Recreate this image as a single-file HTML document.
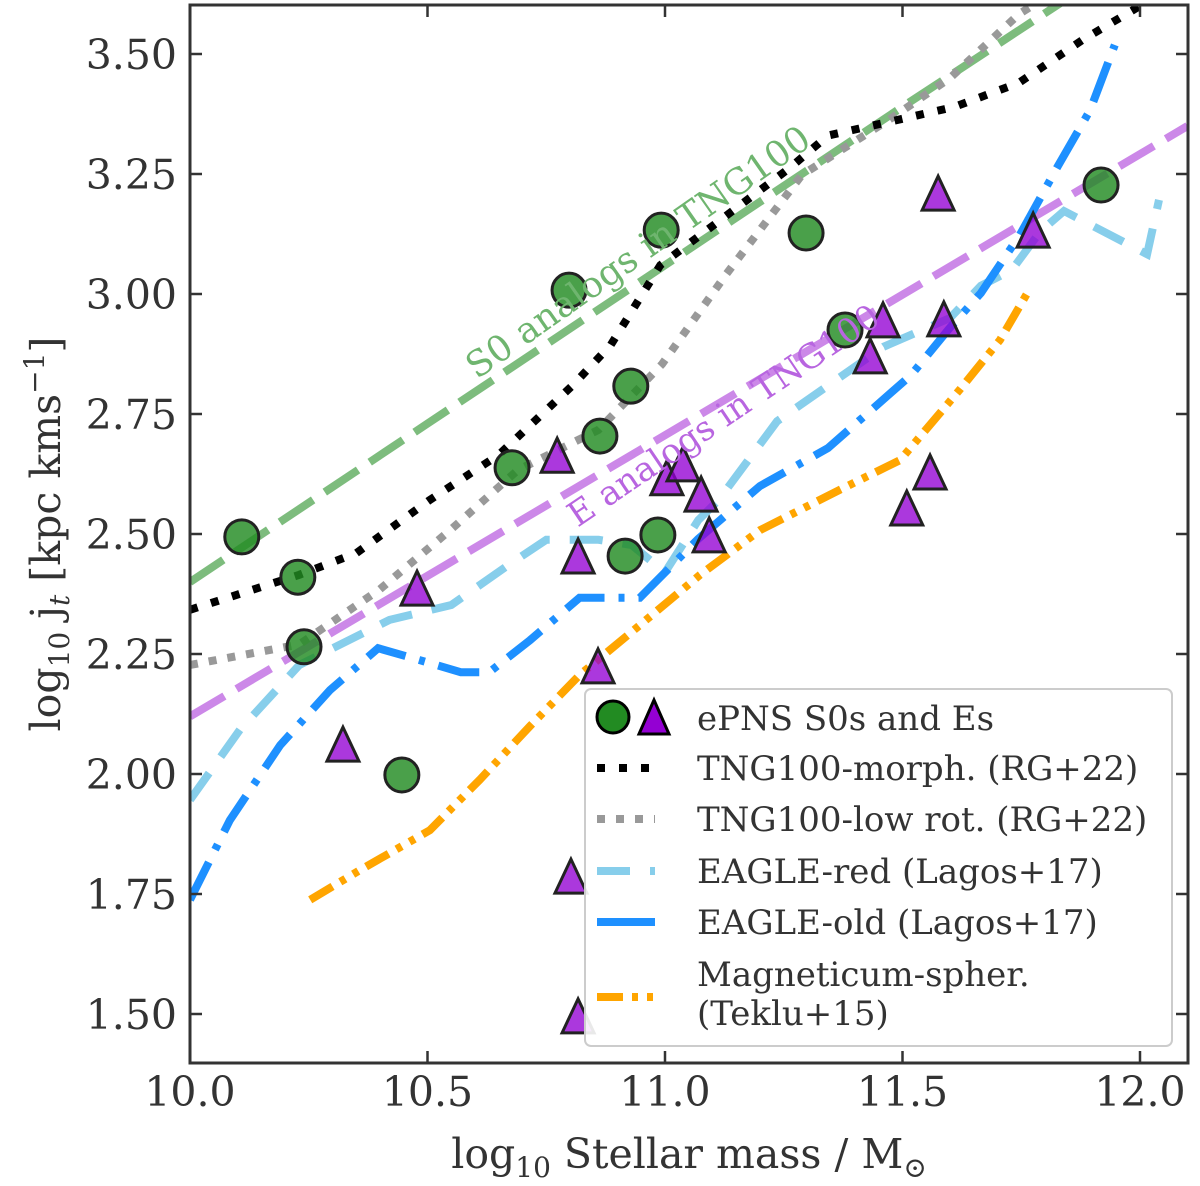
<!DOCTYPE html>
<html><head><meta charset="utf-8"><style>
body{margin:0;background:#fff}
svg{display:block;font-family:"DejaVu Serif","Liberation Serif",serif}
</style></head><body>
<svg id="c" width="1200" height="1186" viewBox="0 0 1200 1186">
<defs><clipPath id="clip"><rect x="190" y="5" width="998" height="1058"/></clipPath></defs>
<g id="lines" clip-path="url(#clip)"></g>
<g id="marks"></g>
<text x="645" y="262" transform="rotate(-35 645 262)" text-anchor="middle" font-size="36" fill="#6fb56f">S0 analogs in TNG100</text>
<text x="730" y="425" transform="rotate(-34 730 425)" text-anchor="middle" font-size="34" fill="#b865e0">E analogs in TNG100</text>
<rect x="190" y="5" width="998" height="1058" fill="none" stroke="#333" stroke-width="3"/>
<g id="axes"></g>
<g>
<rect x="585" y="689" width="587" height="357" rx="6" fill="#fff" fill-opacity="0.9" stroke="#ccc" stroke-width="2"/>
<circle cx="613" cy="717" r="16" fill="#228b22" stroke="#000" stroke-width="3"/>
<polygon points="639,734 669,734 654,700" fill="#9400d3" stroke="#000" stroke-width="3"/>
<g font-size="34" fill="#333">
<text x="697" y="730">ePNS S0s and Es</text>
<text x="697" y="780">TNG100-morph. (RG+22)</text>
<text x="697" y="831">TNG100-low rot. (RG+22)</text>
<text x="697" y="883">EAGLE-red (Lagos+17)</text>
<text x="697" y="934">EAGLE-old (Lagos+17)</text>
<text x="697" y="986">Magneticum-spher.</text>
<text x="697" y="1025">(Teklu+15)</text>
</g>
<line x1="597" x2="655" y1="768" y2="768" stroke="#000" stroke-width="8" stroke-dasharray="8,14"/>
<line x1="597" x2="655" y1="819" y2="819" stroke="#999" stroke-width="8" stroke-dasharray="8,11"/>
<line x1="597" x2="655" y1="871" y2="871" stroke="#87ceeb" stroke-width="8" stroke-dasharray="33,20"/>
<line x1="597" x2="655" y1="922" y2="922" stroke="#1e90ff" stroke-width="8"/>
<line x1="597" x2="655" y1="997" y2="997" stroke="#ffa500" stroke-width="8" stroke-dasharray="26,9,6,9,6,9"/>
</g>
<text x="689" y="1168" text-anchor="middle" font-size="41" fill="#333">log<tspan font-size="28" dy="9">10</tspan><tspan dy="-9"> Stellar mass / M</tspan><tspan font-size="28" dy="9">⊙</tspan></text>
<text transform="translate(60 534) rotate(-90)" text-anchor="middle" font-size="41" fill="#333">log<tspan font-size="28" dy="9">10</tspan><tspan dy="-9"> j</tspan><tspan font-size="28" dy="9" font-style="italic">t</tspan><tspan dy="-9"> [kpc kms</tspan><tspan font-size="28" dy="-16">−1</tspan><tspan dy="16">]</tspan></text>
</svg>
<script>
const xTicks=[10.0,10.5,11.0,11.5,12.0];
const yTicks=[1.50,1.75,2.00,2.25,2.50,2.75,3.00,3.25,3.50];
const s0Mass=[10.109,10.227,10.240,10.446,10.678,10.798,10.863,10.928,10.985,10.992,10.916,11.297,11.379,11.918];
const s0J=[2.494,2.410,2.265,1.998,2.638,3.008,2.704,2.808,2.498,3.133,2.454,3.127,2.925,3.227];
const eMass=[10.773,10.817,10.478,10.322,10.859,10.802,10.817,11.004,11.038,11.076,11.093,11.432,11.459,11.575,11.587,11.558,11.509,11.775];
const eJ=[2.660,2.450,2.383,2.058,2.221,1.783,1.492,2.613,2.642,2.579,2.494,2.867,2.942,3.206,2.944,2.625,2.550,3.129];
const s0LineX=[10.0,10.5,11.0,11.5,12.1];
const s0LineY=[2.40,2.73,3.06,3.39,3.78];
const eLineX=[10.0,12.1];
const eLineY=[2.12,3.35];
const morphX=[10.0,10.23,10.35,10.505,10.65,10.806,10.886,10.99,11.263,11.343,11.478,11.61,11.745,11.88,12.0];
const morphY=[2.342,2.415,2.46,2.571,2.665,2.81,2.894,3.06,3.263,3.33,3.36,3.39,3.44,3.53,3.60];
const lowrotX=[10.0,10.23,10.4,10.55,10.69,10.86,10.994,11.128,11.288,11.478,11.6,11.745,11.82];
const lowrotY=[2.227,2.27,2.385,2.51,2.633,2.717,2.854,3.04,3.248,3.367,3.45,3.583,3.63];
const redX=[10.0,10.105,10.23,10.42,10.55,10.67,10.75,10.86,10.93,11.0,11.07,11.113,11.236,11.46,11.6,11.665,11.73,11.79,11.84,12.015,12.04];
const redY=[1.946,2.092,2.227,2.321,2.352,2.435,2.488,2.488,2.477,2.42,2.529,2.571,2.735,2.89,2.95,3.017,3.05,3.13,3.173,3.083,3.196];
const oldX=[10.0,10.084,10.19,10.295,10.396,10.484,10.57,10.63,10.716,10.82,10.947,11.07,11.2,11.343,11.518,11.6,11.665,11.747,11.825,11.895,11.947];
const oldY=[1.738,1.904,2.06,2.175,2.262,2.237,2.212,2.212,2.279,2.367,2.367,2.49,2.6,2.679,2.831,2.93,3.002,3.123,3.263,3.383,3.519];
const magX=[10.253,10.358,10.505,10.61,10.716,10.82,10.947,11.074,11.2,11.368,11.495,11.62,11.705,11.764];
const magY=[1.738,1.80,1.883,1.988,2.10,2.206,2.31,2.415,2.508,2.592,2.654,2.80,2.904,3.004];

const X=v=>190+(v-10)*475;
const Y=v=>54+(3.5-v)*480;
const NS="http://www.w3.org/2000/svg";
function mk(tag,attrs,parent){const e=document.createElementNS(NS,tag);for(const k in attrs)e.setAttribute(k,attrs[k]);parent.appendChild(e);return e;}
const lines=document.getElementById('lines');
function drawLine(xs,ys,color,dash,name,op){
  const d=xs.map((x,i)=>(i?'L':'M')+X(x).toFixed(1)+','+Y(ys[i]).toFixed(1)).join(' ');
  const p=mk('path',{d:d,fill:'none',stroke:color,'stroke-width':8,'stroke-dasharray':dash,'stroke-opacity':op||1},lines);
  
  
}
drawLine(s0LineX,s0LineY,'#6fb56f','40,14','line-s0-analogs',0.9);
drawLine(eLineX,eLineY,'#c77be6','40,14','line-e-analogs',0.9);
drawLine(lowrotX,lowrotY,'#999','8,11','line-tng-lowrot');
drawLine(morphX,morphY,'#000','8,14','line-tng-morph');
drawLine(redX,redY,'#87ceeb','33,20','line-eagle-red');
drawLine(oldX,oldY,'#1e90ff','42,14,6,14','line-eagle-old');
drawLine(magX,magY,'#ffa500','26,9,6,9,6,9','line-magneticum');

const marks=document.getElementById('marks');
s0Mass.forEach((m,i)=>{
  const c=mk('circle',{cx:X(m),cy:Y(s0J[i]),r:17,fill:'#228b22','fill-opacity':0.82,stroke:'#222','stroke-width':3},marks);
  
  
});
eMass.forEach((m,i)=>{
  const x=X(m),y=Y(eJ[i]);
  const t=mk('polygon',{points:`${x-16},${y+15} ${x+16},${y+15} ${x},${y-19}`,fill:'#9400d3','fill-opacity':0.78,stroke:'#222','stroke-width':3},marks);
  
  
});

const axes=document.getElementById('axes');
xTicks.forEach(v=>{
  const x=X(v);
  mk('line',{x1:x,x2:x,y1:1063,y2:1051,stroke:'#333','stroke-width':2.5},axes);
  mk('line',{x1:x,x2:x,y1:5,y2:17,stroke:'#333','stroke-width':2.5},axes);
  const t=mk('text',{x:x,y:1106,'text-anchor':'middle','font-size':41,fill:'#333'},axes);
  t.textContent=v.toFixed(1);
  
  
});
yTicks.forEach(v=>{
  const y=Y(v);
  mk('line',{x1:190,x2:202,y1:y,y2:y,stroke:'#333','stroke-width':2.5},axes);
  mk('line',{x1:1176,x2:1188,y1:y,y2:y,stroke:'#333','stroke-width':2.5},axes);
  const t=mk('text',{x:177,y:y+15,'text-anchor':'end','font-size':41,fill:'#333'},axes);
  t.textContent=v.toFixed(2);
  
  
});
</script>
</body></html>
